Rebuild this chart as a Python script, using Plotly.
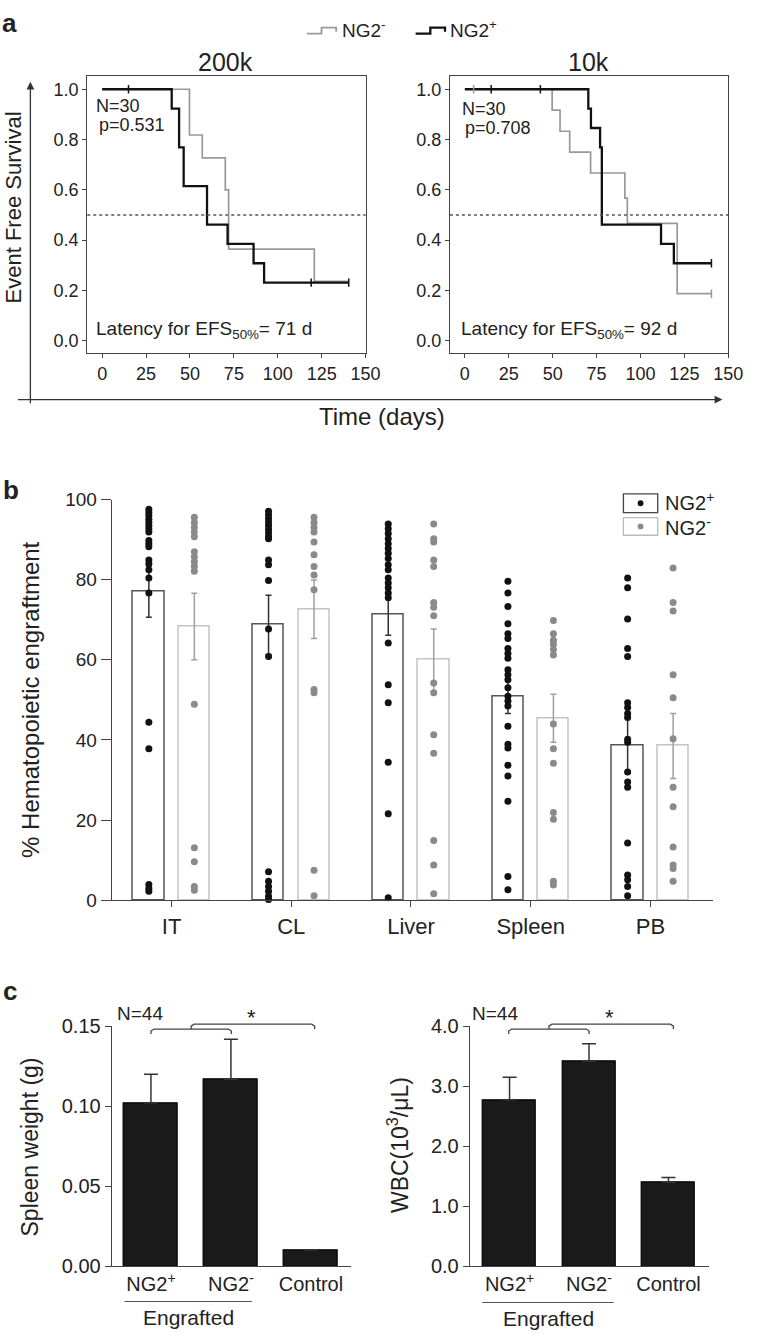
import numpy as np
import plotly.graph_objects as go

W, H = 758, 1343
FONT = "Liberation Sans, Arial, sans-serif"
AX = "#444444"
GREY = "#999999"
BLACK = "#111111"


def px(x):
    return x / W


def py(y):
    return 1 - y / H


# --- panel a: Kaplan-Meier (event free survival) ---
km200_pos_t = [0, 39.6, 43.8, 46.4, 59.7, 71.4, 86.2, 92.2, 140.4]
km200_pos_s = [1.0, 0.923, 0.769, 0.615, 0.462, 0.385, 0.308, 0.231, 0.231]
km200_neg_t = [0, 49.7, 57.0, 70.1, 72.0, 120.8, 140.4]
km200_neg_s = [1.0, 0.818, 0.727, 0.60, 0.364, 0.236, 0.236]
cens200_pos_t = [15, 119, 140.4]
cens200_pos_s = [1.0, 0.231, 0.231]

km10_pos_t = [0, 70.3, 71.8, 77.0, 78.0, 111.7, 119.0, 140.4]
km10_pos_s = [1.0, 0.923, 0.846, 0.769, 0.462, 0.385, 0.308, 0.308]
km10_neg_t = [0, 49.7, 54.2, 59.7, 71.6, 91.1, 92.5, 120.9, 140.4]
km10_neg_s = [1.0, 0.917, 0.833, 0.75, 0.667, 0.567, 0.467, 0.187, 0.187]
cens10_pos_t = [15, 43, 140.4]
cens10_pos_s = [1.0, 1.0, 0.308]
cens10_neg_t = [5, 140.4]
cens10_neg_s = [1.0, 0.187]

# --- panel b: % hematopoietic engraftment ---
tissues = ["IT", "CL", "Liver", "Spleen", "PB"]
pos_mean = [77.0, 68.7, 71.2, 50.9, 38.7]
pos_sem = [6.4, 7.4, 5.1, 4.3, 7.0]
neg_mean = [68.3, 72.6, 60.0, 45.4, 38.5]
neg_sem = [8.3, 7.3, 7.7, 6.0, 8.1]

pos_dots = [
    [97.6, 96.8, 96.0, 95.1, 94.3, 93.5, 92.7, 91.9, 89.8, 89.0, 88.2, 84.9,
     84.0, 82.5, 80.4, 76.7, 44.4, 37.8, 3.9, 3.0, 2.2],
    [97.1, 96.2, 95.3, 94.4, 93.5, 92.6, 91.7, 90.8, 90.2, 84.9, 83.7, 79.8,
     67.7, 60.8, 7.1, 4.7, 3.4, 2.2, 1.0, 0.2],
    [93.9, 92.7, 91.5, 90.2, 89.0, 87.8, 86.6, 85.3, 83.7, 82.5, 80.4, 79.2,
     78.0, 76.7, 75.5, 64.2, 53.8, 49.3, 34.4, 21.6, 0.6],
    [79.6, 76.7, 73.3, 69.0, 66.5, 65.3, 62.8, 61.6, 60.4, 57.5, 56.3, 55.0,
     53.0, 50.9, 49.7, 48.5, 43.4, 38.9, 38.0, 33.7, 31.0, 24.7, 5.9, 2.6],
    [80.4, 78.0, 70.2, 62.8, 60.8, 49.3, 48.1, 46.6, 45.6, 40.2, 39.4, 32.0,
     29.5, 28.2, 14.3, 6.3, 5.1, 3.4, 1.1],
]
neg_dots = [
    [95.6, 94.3, 93.1, 91.9, 90.7, 87.0, 85.7, 84.5, 83.3, 82.1, 48.9, 13.1,
     9.6, 3.4, 2.5],
    [95.6, 94.3, 93.1, 91.9, 89.4, 86.2, 83.3, 81.2, 77.5, 52.6, 51.8, 7.5, 1.1],
    [93.9, 90.2, 89.4, 84.9, 83.3, 74.3, 73.1, 71.0, 54.2, 51.8, 41.3, 36.7,
     14.9, 8.8, 1.6],
    [69.8, 66.5, 64.9, 63.9, 62.6, 61.2, 44.0, 37.8, 34.2, 21.9, 20.2, 4.7, 3.8],
    [82.9, 74.3, 72.2, 56.3, 50.5, 40.3, 28.2, 23.3, 13.3, 8.8, 7.9, 4.7],
]

# --- panel c: spleen weight and WBC ---
groups_c = ["NG2<sup>+</sup>", "NG2<sup>-</sup>", "Control"]
spleen_w = [0.102, 0.117, 0.010]
spleen_err = [0.018, 0.025, 0.0]
wbc = [2.77, 3.42, 1.40]
wbc_err = [0.38, 0.29, 0.08]

fig = go.Figure()

# KM curves
for xa, ya, t_neg, s_neg, t_pos, s_pos in [
    ("x", "y", km200_neg_t, km200_neg_s, km200_pos_t, km200_pos_s),
    ("x2", "y2", km10_neg_t, km10_neg_s, km10_pos_t, km10_pos_s),
]:
    fig.add_trace(go.Scatter(x=t_neg, y=s_neg, mode="lines", line_shape="hv",
                             line=dict(color=GREY, width=1.7), xaxis=xa, yaxis=ya,
                             showlegend=False))
    fig.add_trace(go.Scatter(x=t_pos, y=s_pos, mode="lines", line_shape="hv",
                             line=dict(color=BLACK, width=2.3), xaxis=xa, yaxis=ya,
                             showlegend=False))

# censor ticks
for xa, ya, t, s, c in [
    ("x", "y", cens200_pos_t, cens200_pos_s, BLACK),
    ("x2", "y2", cens10_neg_t, cens10_neg_s, GREY),
    ("x2", "y2", cens10_pos_t, cens10_pos_s, BLACK),
]:
    fig.add_trace(go.Scatter(x=t, y=s, mode="markers", xaxis=xa, yaxis=ya,
                             marker=dict(symbol="line-ns-open", size=6, color=c,
                                         line=dict(color=c, width=1.5)),
                             showlegend=False, cliponaxis=False))

for xr, ya in [("x domain", "y"), ("x2 domain", "y2")]:
    fig.add_shape(type="line", xref=xr, yref=ya, x0=0, x1=1, y0=0.5, y1=0.5,
                  line=dict(color="#555555", width=1.3, dash="dot"))

# panel b bars + dots
idx = np.arange(len(tissues))
fig.add_trace(go.Bar(x=idx - 0.19, y=pos_mean, width=0.262, xaxis="x3", yaxis="y3",
                     marker=dict(color="white", line=dict(color="#555555", width=1.5)),
                     error_y=dict(type="data", array=pos_sem, color="#333333",
                                  thickness=1.5, width=3),
                     showlegend=False))
fig.add_trace(go.Bar(x=idx + 0.19, y=neg_mean, width=0.262, xaxis="x3", yaxis="y3",
                     marker=dict(color="white", line=dict(color="#c4c4c4", width=1.5)),
                     error_y=dict(type="data", array=neg_sem, color="#a0a0a0",
                                  thickness=1.5, width=3),
                     showlegend=False))
for i in idx:
    fig.add_trace(go.Scatter(x=np.full(len(pos_dots[i]), i - 0.19), y=pos_dots[i],
                             mode="markers", xaxis="x3", yaxis="y3", cliponaxis=False,
                             marker=dict(color=BLACK, size=7), showlegend=False))
    fig.add_trace(go.Scatter(x=np.full(len(neg_dots[i]), i + 0.19), y=neg_dots[i],
                             mode="markers", xaxis="x3", yaxis="y3", cliponaxis=False,
                             marker=dict(color="#8a8a8a", size=7), showlegend=False))

# panel c bars
for xa, ya, vals, errs in [("x4", "y4", spleen_w, spleen_err), ("x5", "y5", wbc, wbc_err)]:
    fig.add_trace(go.Bar(x=[0, 1, 2], y=vals, width=0.67, xaxis=xa, yaxis=ya,
                         marker=dict(color="#1a1a1a", line=dict(color="#000000", width=1.2)),
                         error_y=dict(type="data", array=errs, arrayminus=[0, 0, 0],
                                      symmetric=False, color="#333333",
                                      thickness=1.5, width=7),
                         showlegend=False))


def tf(size):
    return dict(family=FONT, size=size, color="#222222")


base = dict(showgrid=False, zeroline=False, showline=True, linecolor=AX, linewidth=1.2,
            ticks="outside", tickcolor=AX)

km_x = dict(base, range=[-8.5, 150], tickvals=[0, 25, 50, 75, 100, 125, 150], ticklen=4,
            mirror=True, tickfont=tf(18))
km_y = dict(base, range=[-0.05, 1.053], tickvals=[0, 0.2, 0.4, 0.6, 0.8, 1.0],
            tickformat=".1f", ticklen=4, mirror=True, tickfont=tf(18))

fig.update_layout(
    width=W, height=H, margin=dict(l=0, r=0, t=0, b=0),
    paper_bgcolor="white", plot_bgcolor="white",
    font=dict(family=FONT, color="#222222"),
    bargap=0,
    xaxis=dict(km_x, domain=[px(89), px(373)], anchor="y"),
    yaxis=dict(km_y, domain=[py(348), py(66)], anchor="x"),
    xaxis2=dict(km_x, domain=[px(459), px(743)], anchor="y2"),
    yaxis2=dict(km_y, domain=[py(348), py(66)], anchor="x2"),
    xaxis3=dict(base, domain=[px(114), px(727)], anchor="y3", range=[-0.5, 4.52],
                tickvals=list(idx), ticktext=tissues, ticklen=6, tickfont=tf(22)),
    yaxis3=dict(base, domain=[py(904), py(496.7)], anchor="x3", range=[0, 100],
                tickvals=[0, 20, 40, 60, 80, 100], ticklen=10, tickfont=tf(19)),
    xaxis4=dict(base, domain=[px(114), px(358)], anchor="y4", range=[-0.49, 2.5],
                tickvals=[0, 1, 2], ticktext=groups_c, ticks="", tickfont=tf(20)),
    yaxis4=dict(base, domain=[py(1276), py(1032.3)], anchor="x4", range=[0, 0.15],
                tickvals=[0, 0.05, 0.10, 0.15], tickformat=".2f", ticklen=6,
                tickfont=tf(20)),
    xaxis5=dict(base, domain=[px(479.3), px(723.3)], anchor="y5", range=[-0.5, 2.51],
                tickvals=[0, 1, 2], ticktext=groups_c, ticks="", tickfont=tf(20)),
    yaxis5=dict(base, domain=[py(1276), py(1032.3)], anchor="x5", range=[0, 4],
                tickvals=[0, 1, 2, 3, 4], tickformat=".1f", ticklen=6, tickfont=tf(20)),
)


def note(x, y, text, size=14, xanchor="center", bold=False, angle=0, color="#222222"):
    if bold:
        text = "<b>" + text + "</b>"
    fig.add_annotation(x=px(x), y=py(y), xref="paper", yref="paper", text=text,
                       showarrow=False, xanchor=xanchor, yanchor="middle",
                       textangle=angle, font=dict(family=FONT, size=size, color=color))


def pline(pts, color=AX, width=1.3):
    d = "M " + " L ".join(f"{px(a):.5f},{py(b):.5f}" for a, b in pts)
    fig.add_shape(type="path", xref="paper", yref="paper", path=d,
                  line=dict(color=color, width=width))


# panel labels
note(10, 12, "a", size=26, bold=True)
note(11, 487, "b", size=26, bold=True)
note(10, 996, "c", size=26, bold=True)

# panel a legend
pline([(313, 23), (328, 23), (328, 17), (343, 17), (343, 21)], color=GREY, width=1.8)
note(347, 18, "NG2<sup>-</sup>", size=19, xanchor="left")
pline([(424, 23), (439, 23), (439, 17), (454, 17), (454, 21)], color=BLACK, width=2.3)
note(457, 18, "NG2<sup>+</sup>", size=19, xanchor="left")

# panel a titles and texts
note(230, 52, "200k", size=25)
note(600, 52, "10k", size=25)
note(96, 97, "N=30", size=18, xanchor="left")
note(99, 116, "p=0.531", size=18, xanchor="left")
note(469, 100, "N=30", size=18, xanchor="left")
note(472, 119, "p=0.708", size=18, xanchor="left")
note(96, 324, "Latency for EFS<sub>50%</sub>= 71 d", size=19, xanchor="left")
note(468, 324, "Latency for EFS<sub>50%</sub>= 92 d", size=19, xanchor="left")
note(14, 200, "Event Free Survival", size=22, angle=-90)
note(390, 412, "Time (days)", size=24)

# outer arrows of panel a
fig.add_annotation(x=px(31), y=py(72), xref="paper", yref="paper", text="", showarrow=True,
                   ax=0, ay=323, arrowhead=2, arrowsize=1.2, arrowwidth=1.3, arrowcolor="#333333")
fig.add_annotation(x=px(737), y=py(395), xref="paper", yref="paper", text="", showarrow=True,
                   ax=-706, ay=0, arrowhead=2, arrowsize=1.2, arrowwidth=1.3, arrowcolor="#333333")

# panel b axis title and legend
note(31, 700, "% Hematopoietic engraftment", size=24, angle=-90)
fig.add_shape(type="rect", xref="paper", yref="paper", x0=px(636), x1=px(671),
              y0=py(510), y1=py(491), line=dict(color="#444444", width=1.3))
fig.add_shape(type="rect", xref="paper", yref="paper", x0=px(636), x1=px(671),
              y0=py(533), y1=py(515), line=dict(color="#bbbbbb", width=1.3))
fig.add_shape(type="circle", xref="paper", yref="paper", x0=px(650.5), x1=px(656.5),
              y0=py(503.5), y1=py(497.5), fillcolor=BLACK, line=dict(width=0))
fig.add_shape(type="circle", xref="paper", yref="paper", x0=px(650.5), x1=px(656.5),
              y0=py(527), y1=py(521), fillcolor="#8a8a8a", line=dict(width=0))
note(676, 499, "NG2<sup>+</sup>", size=20, xanchor="left")
note(676, 524, "NG2<sup>-</sup>", size=20, xanchor="left")

# panel c titles, brackets, engrafted lines
note(31, 1155, "Spleen weight (g)", size=23, angle=-90)
note(406, 1153, "WBC(10<sup>3</sup>/μL)", size=23, angle=-90)

for xl, xm, xr, xc, nx, sx in [(154, 195, 236, 321, 143, 257), (519, 560, 601, 687, 505, 622)]:
    pline([(xl, 1040), (xl, 1037), (xl + 3, 1035), (xr - 3, 1035), (xr, 1037), (xr, 1040)])
    pline([(xm, 1035), (xm, 1032), (xm + 3, 1030), (xc - 3, 1030), (xc, 1032), (xc, 1035)])
    note(nx, 1019, "N=44", size=19)
    note(sx, 1023, "*", size=22)

pline([(127, 1312), (257, 1312)], color="#555555", width=1.2)
note(192, 1328, "Engrafted", size=21)
pline([(492, 1313), (626, 1313)], color="#555555", width=1.2)
note(560, 1329, "Engrafted", size=21)

fig.write_html("out.html", config={"displayModeBar": False},
               post_script="document.body.style.margin='0';")
